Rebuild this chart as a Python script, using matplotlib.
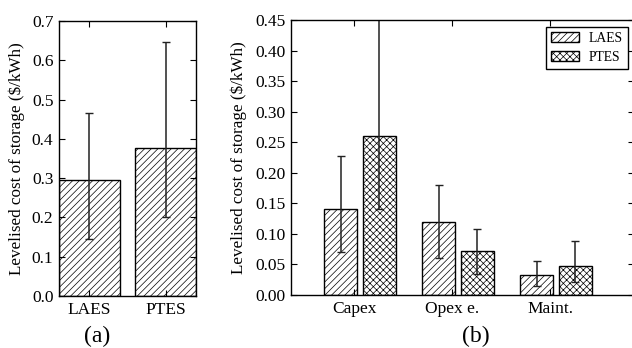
import numpy as np
import matplotlib
matplotlib.use("Agg")
import matplotlib.pyplot as plt

plt.rcParams['font.family'] = ['Liberation Serif', 'DejaVu Serif']
plt.rcParams['hatch.linewidth'] = 0.5
plt.rcParams['hatch.color'] = '#444444'

# panel (a): total levelised cost
tech = ["LAES", "PTES"]
total = [0.296, 0.378]
total_lo = [0.145, 0.200]
total_hi = [0.465, 0.646]

# panel (b): breakdown
parts = ["Capex", "Opex e.", "Maint."]
laes = [0.141, 0.120, 0.033]
laes_lo = [0.070, 0.060, 0.015]
laes_hi = [0.228, 0.180, 0.055]
ptes = [0.260, 0.072, 0.047]
ptes_lo = [0.140, 0.035, 0.022]
ptes_hi = [0.470, 0.108, 0.088]

fig = plt.figure(figsize=(6.32, 3.48), dpi=100)
W, H = 632.0, 348.0
ax1 = fig.add_axes([59 / W, 1 - 296 / H, 137 / W, 275 / H])
ax2 = fig.add_axes([291 / W, 1 - 295 / H, 343 / W, 275 / H])

ylab = "Levelised cost of storage ($/kWh)"
fs = 12.5

# (a)
x = np.arange(len(tech))
err = [np.array(total) - np.array(total_lo), np.array(total_hi) - np.array(total)]
ax1.bar(x, total, 0.8, color='white', edgecolor='black', hatch='/////', linewidth=1.0)
ax1.errorbar(x, total, yerr=err, fmt='none', ecolor='#222222', elinewidth=1.1, capsize=3)
ax1.set_xlim(-0.4, 1.4)
ax1.set_ylim(0, 0.7)
ax1.set_xticks(x)
ax1.set_xticklabels(tech)
ax1.set_ylabel(ylab, fontsize=12.3)
ax1.yaxis.set_label_coords(-0.248, 0.5)
fig.text(97 / W, 1 - 336 / H, "(a)", ha='center', va='center', fontsize=17)

# (b)
ind = np.arange(len(parts))
w = 0.34
e1 = [np.array(laes) - np.array(laes_lo), np.array(laes_hi) - np.array(laes)]
e2 = [np.array(ptes) - np.array(ptes_lo), np.array(ptes_hi) - np.array(ptes)]
ax2.bar(ind - 0.305, laes, w, align='edge', color='white', edgecolor='black',
        hatch='/////', linewidth=1.0, label="LAES")
ax2.bar(ind + 0.088, ptes, w, align='edge', color='white', edgecolor='black',
        hatch='xxxxx', linewidth=1.0, label="PTES")
ax2.errorbar(ind - 0.305 + w / 2, laes, yerr=e1, fmt='none', ecolor='#222222',
             elinewidth=1.1, capsize=3)
ax2.errorbar(ind + 0.088 + w / 2, ptes, yerr=e2, fmt='none', ecolor='#222222',
             elinewidth=1.1, capsize=3)
ax2.set_xlim(-0.643, 2.857)
ax2.set_ylim(0, 0.45)
ax2.set_yticks(np.arange(0, 0.451, 0.05))
ax2.set_xticks(ind)
ax2.set_xticklabels(parts)
ax2.set_ylabel(ylab, fontsize=12.3)
ax2.yaxis.set_label_coords(-0.128, 0.5)
ax2.legend(loc='upper right', bbox_to_anchor=(628 / W, 1 - 27 / H),
           bbox_transform=fig.transFigure, fontsize=9.8,
           fancybox=False, edgecolor='black', framealpha=1, borderaxespad=0,
           borderpad=0.35, labelspacing=0.45, handlelength=2.05,
           handleheight=0.75, handletextpad=0.75)
fig.text(476 / W, 1 - 336 / H, "(b)", ha='center', va='center', fontsize=17)

for ax in (ax1, ax2):
    ax.tick_params(direction='in', top=True, right=True, length=4, width=0.8,
                   labelsize=fs, pad=4)
    for s in ax.spines.values():
        s.set_linewidth(1.0)

fig.savefig("out.png", dpi=100)
